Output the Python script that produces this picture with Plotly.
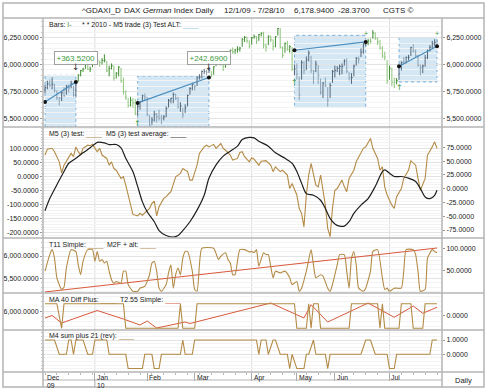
import plotly.graph_objects as go

W, H = 490, 390

# ---------------- price data (trading-day index, 1 Dec 2009 .. 28 Jul 2010) ----------------
close = [5787, 5821, 5808, 5817, 5759, 5693, 5685, 5736, 5709, 5799, 5781, 5823, 5719, 5831, 5902, 5944, 5957, 6002, 5957, 5957,
         6048, 6032, 6034, 6019, 6037, 6041, 5943, 5963, 5989, 5875, 5919, 5976, 5851, 5746, 5695, 5620, 5668, 5643, 5540, 5608,
         5653, 5709, 5699, 5534, 5434, 5484, 5536, 5516, 5503, 5500, 5513, 5592, 5665, 5686, 5722, 5686, 5605, 5615, 5532, 5598,
         5713, 5776, 5817, 5795, 5877, 5885, 5936, 5937, 5929, 5945, 5903, 5979, 6025, 6024, 6015, 5982, 6017, 6038, 6132, 6120, 6136, 6142, 6153,
         6235, 6253, 6222, 6171, 6250, 6261, 6212, 6279, 6291, 6180, 6162, 6264, 6230, 6168, 6259, 6335, 6160, 6085, 6196, 6136,
         6166, 5958, 5958, 5909, 5716, 6018, 5946, 6042, 6107, 5947, 5939, 6004, 5899, 5740, 5829, 5801, 5670, 5805, 5936, 5946, 5964,
         5981, 5984, 6032, 5938, 5874, 5880, 5985, 6057, 6049, 6116, 6191, 6216, 6220, 6216, 6293, 6241, 6212, 6153, 6080, 6070, 5849, 5966,
         5835, 5834, 5850, 5982, 6019, 6015, 6066, 6068, 6158, 6124, 6081, 5996, 5970, 5987, 6064, 6131, 6160, 6194, 6207, 6179]
high = [5810, 5850, 5860, 5880, 5820, 5760, 5700, 5750, 5790, 5810, 5815, 5850, 5800, 5840, 5910, 5950, 5970, 6010, 6010, 5980,
        6050, 6060, 6045, 6035, 6060, 6095, 6035, 5990, 6010, 5990, 5930, 5985, 5970, 5880, 5760, 5690, 5700, 5690, 5680, 5650,
        5660, 5720, 5730, 5700, 5530, 5510, 5570, 5550, 5580, 5530, 5530, 5610, 5680, 5690, 5740, 5730, 5700, 5650, 5600, 5630,
        5720, 5790, 5830, 5810, 5890, 5910, 5945, 5960, 5950, 5980, 5940, 5985, 6030, 6040, 6055, 6010, 6025, 6060, 6140, 6160, 6145, 6170, 6165,
        6245, 6265, 6260, 6225, 6255, 6280, 6265, 6285, 6300, 6305, 6195, 6270, 6270, 6235, 6265, 6340, 6340, 6170, 6205, 6220,
        6180, 6165, 6000, 6010, 5890, 6040, 6030, 6075, 6130, 6080, 5950, 6035, 5995, 5870, 5835, 5880, 5790, 5830, 5950, 5990, 5985,
        6000, 6010, 6050, 6060, 5930, 5920, 6000, 6070, 6075, 6150, 6200, 6225, 6240, 6245, 6320, 6300, 6250, 6230, 6170, 6120, 6040, 5990,
        5970, 5880, 5875, 5990, 6030, 6070, 6075, 6090, 6165, 6190, 6140, 6090, 6000, 6000, 6090, 6140, 6180, 6220, 6235, 6230]
low = [5730, 5770, 5790, 5770, 5740, 5670, 5620, 5660, 5700, 5720, 5740, 5780, 5700, 5700, 5840, 5890, 5930, 5960, 5950, 5930,
       5975, 6005, 6000, 5980, 6000, 6020, 5930, 5890, 5955, 5850, 5870, 5890, 5830, 5720, 5670, 5600, 5610, 5600, 5530, 5520,
       5580, 5650, 5670, 5520, 5430, 5440, 5470, 5460, 5480, 5445, 5480, 5510, 5600, 5640, 5640, 5670, 5590, 5560, 5500, 5550,
       5610, 5720, 5760, 5760, 5800, 5860, 5870, 5910, 5900, 5920, 5880, 5905, 5985, 5995, 5990, 5940, 5970, 5995, 6040, 6100, 6100, 6110, 6120,
       6165, 6210, 6200, 6150, 6185, 6240, 6190, 6220, 6260, 6150, 6120, 6180, 6210, 6130, 6160, 6270, 6150, 6060, 6110, 6130,
       6110, 5940, 5900, 5860, 5670, 5860, 5910, 5950, 6030, 5920, 5820, 5930, 5820, 5720, 5690, 5790, 5607, 5690, 5830, 5880, 5930,
       5900, 5910, 5990, 5920, 5850, 5820, 5890, 5990, 6010, 6070, 6100, 6170, 6180, 6195, 6240, 6230, 6180, 6140, 6060, 6040, 5820, 5860,
       5800, 5780, 5815, 5860, 5945, 6000, 6010, 6040, 6080, 6110, 6060, 5980, 5900, 5920, 5980, 6050, 6120, 6150, 6170, 6170]

# ---------------- trades ----------------
trade_entry = [0, 39, 105, 149]
trade_exit = [13, 69, 135, 165]
trade_entry_price = [5652, 5643, 6133, 5984]
trade_exit_price = [5838, 5879, 6210, 6170]
trade_box_high = [5900, 5894, 6272, 6251]
trade_box_low = [5420, 5420, 5600, 5838]
trade_profit = ["+363.5200", "+242.6900", "", ""]
trade_exit_mark = ["↓", "↓", "+", "+"]
trade_entry_mark = ["", "↑", "↑", "↑"]

# ---------------- indicators ----------------
m5_days = [0, 1, 3, 4, 6, 7, 8, 10, 11, 12,
           13, 14, 15, 16, 18, 19, 20, 22, 23, 24,
           26, 27, 28, 29, 30, 32, 33, 34, 35, 36,
           37, 39, 40, 41, 43, 44, 45, 46, 47, 48,
           50, 51, 53, 54, 55, 57, 58, 60, 61, 62,
           64, 65, 67, 68, 69, 71, 72, 74, 75, 76,
           78, 79, 81, 82, 83, 84, 86, 87, 88, 90,
           91, 93, 95, 96, 97, 99, 100, 102, 103, 104,
           106, 107, 108, 109, 110, 111, 112, 114, 115, 116,
           117, 118, 119, 120, 121, 122, 123, 125, 126, 127,
           128, 130, 131, 133, 134, 135, 137, 138, 140, 141,
           142, 143, 144, 146, 147, 148, 150, 151, 153, 154,
           156, 157, 158, 160, 161, 163, 164, 165]
m5_test = [76, 97, 100, 88, 52, 13, 40, 70, 82, 70,
           105, 88, 76, 100, 111, 109, 114, 88, 100, 76,
           64, 40, 52, 28, 22, -7, -1, -31, -66, -102,
           -135, -140, -131, -138, -120, -114, -96, -88, -140, -108,
           -78, -72, -54, -25, -1, 11, 28, 17, -13, -13,
           40, 82, 105, 111, 105, 114, 100, 117, 100, 93,
           76, 58, 64, 85, 88, 70, 52, 66, 61, 40,
           54, 56, 40, 17, 34, 17, 22, 5, -43, -25,
           -66, -114, -131, -179, -66, 5, 46, -31, -37, 5,
           -49, -102, -185, -214, -114, -49, -43, -13, -37, -54,
           -7, 22, 52, 82, 100, 105, 135, 100, 64, 22,
           34, -37, -66, -102, -114, -72, -43, -7, 22, 56,
           40, -7, -49, -7, 76, 105, 123, 100]

m5_avg_days = [0, 2, 5, 8, 10, 13, 16, 19, 21, 22,
               25, 27, 30, 32, 34, 37, 39, 41, 43, 46,
               48, 51, 54, 56, 58, 61, 64, 67, 69, 72,
               75, 78, 81, 83, 86, 88, 90, 94, 97, 101,
               104, 106, 108, 110, 113, 116, 118, 120, 122, 124,
               126, 128, 130, 133, 136, 139, 142, 143, 145, 147,
               150, 153, 156, 158, 160, 162, 164, 165]
m5_avg = [-40, -18, 7, 31, 46, 55, 65, 74, 81, 84,
          83, 80, 80, 74, 55, 31, 4, -24, -42, -60,
          -76, -85, -88, -85, -76, -60, -39, -12, 19, 43,
          59, 68, 77, 89, 93, 92, 86, 77, 65, 55,
          46, 31, 10, -9, -12, -21, -36, -54, -64, -68,
          -68, -60, -45, -30, -18, 4, 31, 34, 28, 22,
          22, 19, 13, 0, -15, -18, -12, -3]

t11_days = [0, 2, 3, 4, 5, 7, 8, 9, 11, 13,
            14, 15, 16, 18, 20, 21, 22, 23, 24, 25,
            26, 27, 28, 29, 30, 32, 33, 34, 35, 37,
            39, 40, 42, 43, 44, 45, 46, 47, 48, 49,
            51, 52, 53, 54, 55, 56, 57, 58, 59, 60,
            62, 63, 64, 65, 66, 71, 73, 74, 76, 77,
            78, 79, 80, 81, 82, 84, 86, 87, 88, 89,
            90, 92, 93, 94, 95, 96, 97, 99, 101, 103,
            104, 106, 107, 108, 110, 112, 113, 114, 116, 117,
            119, 120, 121, 123, 124, 126, 127, 128, 129, 130,
            131, 132, 134, 135, 137, 138, 140, 142, 143, 144,
            145, 147, 148, 150, 151, 152, 155, 156, 157, 158,
            160, 161, 163, 164, 165]
t11 = [49, 86, 97, 78, 34, 8, 13, 56, 97, 93,
       63, 41, 71, 97, 97, 71, 93, 71, 75, 67,
       71, 49, 30, 22, 26, 22, 49, 49, 19, 4,
       4, 11, 15, 26, 41, 67, 71, 49, 11, 4,
       19, 45, 63, 11, 41, 56, 41, 78, 93, 93,
       49, 8, 4, 63, 100, 100, 75, 82, 90, 75,
       67, 41, 41, 71, 97, 97, 92, 93, 90, 97,
       60, 90, 86, 86, 60, 34, 49, 45, 49, 34,
       19, 26, 4, 11, 49, 97, 63, 34, 41, 38,
       11, 4, 19, 63, 86, 86, 49, 11, 78, 93,
       63, 11, 4, 11, 49, 93, 97, 34, 8, 11,
       4, 11, 11, 11, 49, 97, 97, 86, 49, 4,
       8, 78, 97, 93, 90]

m2f_days = [0, 165]
m2f = [5193, 6179]

ma40_days = [0, 5, 7, 8, 33, 34, 56, 57, 58, 63, 64, 105, 106, 110, 111, 112,
             113, 115, 116, 128, 129, 140, 141, 142, 143, 149, 150, 154, 155, 159, 160, 165]
ma40 = [1, 1, -1, 1, 1, -1, -1, 1, -1, -1, 1, 1, -1, -1, 1, -1,
        1, 1, -1, -1, 1, 1, -1, 1, -1, -1, 1, 1, -1, -1, 1, 1]

t255_days = [0, 3, 7, 22, 33, 40, 43, 47, 59, 61, 95, 109, 112, 119, 136, 147, 155, 159, 165]
t255 = [5937, 5962, 5887, 6012, 5927, 5867, 5907, 5837, 5897, 5882, 6087, 5937, 6070, 5897, 6087, 5944, 6057, 5984, 6044]

m4_days = [0, 4, 6, 9, 10, 11, 12, 13, 16, 18,
           20, 21, 26, 27, 34, 35, 41, 42, 45, 46,
           48, 49, 57, 58, 59, 62, 63, 89, 90, 91,
           93, 94, 96, 97, 99, 102, 103, 104, 106, 109,
           110, 111, 113, 114, 118, 119, 120, 133, 135, 137,
           139, 144, 145, 147, 148, 162, 163, 165]
m4 = [1, 1, 0, 0, 1, 1, 0, 1, 1, 0,
      0, 1, 1, 0, 0, -1, -1, 0, 0, -1,
      -1, 0, 0, 1, 0, 0, 1, 1, 0, 1,
      1, 0, 1, 1, 0, 0, -1, 0, -1, -1,
      0, 0, 1, 0, 0, -1, 0, 0, 1, 1,
      0, 0, -1, -1, 0, 0, 1, 1]

# ---------------- axis labels ----------------
months = ["Dec", "Jan", "Feb", "Mar", "Apr", "May", "Jun", "Jul"]
month_days = [0, 21, 43, 63, 87, 106, 122, 145]
years = ["09", "10"]
year_days = [0, 21]
quarter_days = [21, 87, 145]

p1_ticks = [6250, 6000, 5750, 5500]
p2_left_ticks = [100, 50, 0, -50, -100, -150, -200]
p2_right_ticks = [75, 50, 25, 0, -25, -50, -75]
p3_left_ticks = [6000, 5500]
p3_right_ticks = [100, 50]
p4_left_ticks = [6000]
p4_right_ticks = [0]
p5_right_ticks = [1, 0]

# ---------------- styling ----------------
TAN = "#b48b46"
RED = "#d9583b"
BLK = "#1e1e1e"
GREEN_TXT = "#3c9a3c"
FRAME = "#b4b4b4"
FONT = "Liberation Sans, Arial, sans-serif"


def py(p):
    return 1 - p / H


def px(p):
    return p / W


def dom(a, b):
    return [1 - b / H, 1 - a / H]


fig = go.Figure()

# ---- price bars ----
n = len(close)
groups = {}
for i in range(n):
    inside = any(e <= i <= x for e, x in zip(trade_entry, trade_exit))
    up = i == 0 or close[i] >= close[i - 1]
    xs, ys = groups.setdefault((inside, up), ([], []))
    xs += [i, i, None, i, i + 0.5, None]
    ys += [low[i], high[i], None, close[i], close[i], None]
bar_colors = {(False, True): "#3f8e30", (False, False): "#8cc47a",
              (True, True): "#53677b", (True, False): "#8ea2b5"}
for key, (xs, ys) in groups.items():
    fig.add_trace(go.Scatter(x=xs, y=ys, mode="lines", line=dict(color=bar_colors[key], width=1),
                             xaxis="x", yaxis="y", hoverinfo="skip"))

for k in range(len(trade_entry)):
    fig.add_trace(go.Scatter(x=[trade_entry[k], trade_exit[k]],
                             y=[trade_entry_price[k], trade_exit_price[k]],
                             mode="lines+markers", line=dict(color="#4a8cbd", width=1.2),
                             marker=dict(color="#111", size=4), xaxis="x", yaxis="y", hoverinfo="skip"))

# dummy for right axis of price panel
fig.add_trace(go.Scatter(x=[0], y=[6000], mode="markers", marker=dict(opacity=0), xaxis="x", yaxis="y6", hoverinfo="skip"))

# ---- panel 2 ----
fig.add_trace(go.Scatter(x=m5_days, y=m5_test, mode="lines", line=dict(color=TAN, width=1.1),
                         xaxis="x2", yaxis="y2", hoverinfo="skip"))
fig.add_trace(go.Scatter(x=m5_avg_days, y=m5_avg, mode="lines", line=dict(color=BLK, width=1.2, shape="spline", smoothing=0.8),
                         xaxis="x2", yaxis="y7", hoverinfo="skip"))

# ---- panel 3 ----
fig.add_trace(go.Scatter(x=m2f_days, y=m2f, mode="lines", line=dict(color=RED, width=1),
                         xaxis="x3", yaxis="y3", hoverinfo="skip"))
fig.add_trace(go.Scatter(x=t11_days, y=t11, mode="lines", line=dict(color=TAN, width=1.1, shape="spline", smoothing=0.5),
                         xaxis="x3", yaxis="y8", hoverinfo="skip"))

# ---- panel 4 ----
fig.add_trace(go.Scatter(x=ma40_days, y=ma40, mode="lines", line=dict(color=TAN, width=1.1),
                         xaxis="x4", yaxis="y9", hoverinfo="skip"))
fig.add_trace(go.Scatter(x=t255_days, y=t255, mode="lines", line=dict(color=RED, width=1),
                         xaxis="x4", yaxis="y4", hoverinfo="skip"))

# ---- panel 5 ----
fig.add_trace(go.Scatter(x=m4_days, y=m4, mode="lines", line=dict(color=TAN, width=1.1),
                         xaxis="x5", yaxis="y10", hoverinfo="skip"))
fig.add_trace(go.Scatter(x=[0], y=[0], mode="markers", marker=dict(opacity=0), xaxis="x5", yaxis="y5", hoverinfo="skip"))

# ---------------- axes ----------------
XD = [43 / W, 442 / W]
XR = [-0.84, 167.1]
panels = [(18, 127), (127, 238), (238, 293), (293, 330), (330, 372)]


def fmt(v):
    return f"{v:,.4f}"


layout = {}
for i in range(1, 6):
    name = "xaxis" if i == 1 else f"xaxis{i}"
    ax = dict(domain=XD, range=XR, anchor="y" if i == 1 else f"y{i}", showticklabels=False,
              showgrid=False, zeroline=False, showline=False, ticks="", fixedrange=True)
    if i > 1:
        ax["matches"] = "x"
    if i == 5:
        ax.update(tickvals=[d for d in month_days if d > 0], ticks="outside", ticklen=8,
                  tickcolor="#aaaaaa", tickwidth=1,
                  minor=dict(ticks="outside", ticklen=2, tickcolor="#bbbbbb", tick0=0, dtick=5))
    layout[name] = ax


def yax(domain, rng, ticks, side, anchor, overlay=None, grid=False, minor_dtick=None, labels=True):
    d = dict(range=rng, tickmode="array", tickvals=ticks, ticktext=[fmt(v) for v in ticks], side=side,
             anchor=anchor, showline=False, zeroline=False, showticklabels=labels,
             tickfont=dict(size=7, color="#222", family=FONT), ticks="outside", ticklen=2,
             tickcolor="#999999", showgrid=grid, gridcolor="#e3e3e3", gridwidth=1, fixedrange=True)
    if overlay:
        d["overlaying"] = overlay
    else:
        d["domain"] = domain
    if minor_dtick:
        d["minor"] = dict(tick0=0, dtick=minor_dtick, ticks="outside", ticklen=1.5, tickcolor="#c4c4c4",
                          showgrid=True, gridcolor="#f3f3f3")
    return d


layout["yaxis"] = yax(dom(*panels[0]), [5419, 6433], p1_ticks, "left", "x", grid=True, minor_dtick=50)
layout["yaxis6"] = yax(None, [5419, 6433], p1_ticks, "right", "x", overlay="y")
layout["yaxis2"] = yax(dom(*panels[1]), [-218.8, 175.7], p2_left_ticks, "left", "x2", grid=True, minor_dtick=10)
layout["yaxis7"] = yax(None, [-89.5, 111.8], p2_right_ticks, "right", "x2", overlay="y2")
layout["yaxis3"] = yax(dom(*panels[2]), [5170, 6404], p3_left_ticks, "left", "x3", grid=True, minor_dtick=100)
layout["yaxis8"] = yax(None, [0.2, 123], p3_right_ticks, "right", "x3", overlay="y3")
layout["yaxis4"] = yax(dom(*panels[3]), [5817, 6187], p4_left_ticks, "left", "x4", grid=True, minor_dtick=50)
layout["yaxis9"] = yax(None, [-1.14, 1.87], p4_right_ticks, "right", "x4", overlay="y4")
layout["yaxis5"] = yax(dom(*panels[4]), [-1.24, 1.70], p5_right_ticks, "left", "x5", labels=False, grid=True, minor_dtick=0.25)
layout["yaxis5"]["ticks"] = ""
layout["yaxis10"] = yax(None, [-1.24, 1.70], p5_right_ticks, "right", "x5", overlay="y5")

# ---------------- shapes ----------------
shapes = []
for q in quarter_days:
    shapes.append(dict(type="line", xref="x", yref="paper", x0=q, x1=q, y0=py(372), y1=py(18),
                       line=dict(color="#dddddd", width=1), layer="below"))
for k in range(len(trade_entry)):
    shapes.append(dict(type="rect", xref="x", yref="y", x0=trade_entry[k], x1=trade_exit[k],
                       y0=trade_box_low[k], y1=trade_box_high[k],
                       fillcolor="rgba(150,200,228,0.42)",
                       line=dict(color="rgba(90,150,200,0.75)", width=1, dash="dot"), layer="below"))


def hline(y, x0=3, x1=484, w=1.5):
    return dict(type="line", xref="paper", yref="paper", x0=px(x0), x1=px(x1), y0=py(y), y1=py(y),
                line=dict(color=FRAME, width=w))


shapes.append(dict(type="rect", xref="paper", yref="paper", x0=px(3), x1=px(484), y0=py(387), y1=py(3),
                   line=dict(color=FRAME, width=1.5)))
for y in [18, 127, 238, 293, 330, 372]:
    shapes.append(hline(y))
shapes.append(hline(380, 43, 442, 1))
for x in [43, 442]:
    shapes.append(dict(type="line", xref="paper", yref="paper", x0=px(x), x1=px(x), y0=py(387), y1=py(18),
                       line=dict(color=FRAME, width=1.5)))
shapes.append(dict(type="line", xref="x", yref="paper", x0=year_days[1], x1=year_days[1], y0=py(387), y1=py(380),
                   line=dict(color="#aaaaaa", width=1)))

# ---------------- annotations ----------------
ann = []


def text(x, y, s, size=7, color="#222", xanchor="left"):
    ann.append(dict(x=px(x), y=py(y), xref="paper", yref="paper", text=s, showarrow=False,
                    xanchor=xanchor, yanchor="middle", font=dict(size=size, color=color, family=FONT)))


# title row
title_parts = [("^GDAXI_D", 80), ("DAX <i>German</i> Index Daily", 122), ("12/1/09 - 7/28/10", 222),
               ("6,178.9400", 292), ("-28.3700", 336), ("CGTS ©", 381)]
for s, x in title_parts:
    text(x, 10.5, s, size=8)

# legends
text(47, 24.5, "Bars: <span style='color:#3f8e30'>I-</span>")
text(79.5, 24.5, "* * 2010 - M5 trade (3) Test ALT: <span style='color:#8cc4e2'>____</span>")
text(47, 134, f"M5 (3) test: <span style='color:{TAN}'>____</span>")
text(104, 134, f"M5 (3) test average: <span style='color:{BLK}'>____</span>")
text(47, 244.5, f"T11 Simple: <span style='color:{TAN}'>____</span>")
text(105, 244.5, f"M2F + alt: <span style='color:{TAN}'>____</span>")
text(47, 300, f"MA 40 Diff Plus: <span style='color:{TAN}'>____</span>")
text(118, 300, f"T2.55 Simple: <span style='color:{RED}'>____</span>")
text(47, 336, f"M4 sum plus 21 (rev): <span style='color:{TAN}'>____</span>")

# date row
for m, d in zip(months, month_days):
    ann.append(dict(x=d, y=py(372.5), xref="x", yref="paper", text=m, showarrow=False, xanchor="left",
                    yanchor="top", xshift=1, borderpad=0, font=dict(size=6.8, color="#222", family=FONT)))
for yv, d in zip(years, year_days):
    ann.append(dict(x=d, y=py(380.5), xref="x", yref="paper", text=yv, showarrow=False, xanchor="left",
                    yanchor="top", xshift=1, borderpad=0, font=dict(size=6.8, color="#222", family=FONT)))
text(463, 380, "Daily", size=7.5, xanchor="center")

# trade marks
for k in range(len(trade_entry)):
    if trade_profit[k]:
        ann.append(dict(x=trade_exit[k], y=6063, xref="x", yref="y", text=trade_profit[k], showarrow=False,
                        bordercolor="#a0a0a0", borderwidth=1, borderpad=1.5, bgcolor="white",
                        font=dict(size=8, color=GREEN_TXT, family=FONT)))
    if trade_exit_mark[k] == "↓":
        ann.append(dict(x=trade_exit[k], y=5975, xref="x", yref="y", text="↓", showarrow=False,
                        font=dict(size=9, color="#333", family="DejaVu Sans")))
    elif trade_exit_mark[k]:
        ann.append(dict(x=trade_exit[k], y=high[trade_exit[k]], xref="x", yref="y", text=trade_exit_mark[k],
                        showarrow=False, yanchor="bottom", yshift=1,
                        font=dict(size=7, color=GREEN_TXT, family=FONT)))
    if trade_entry_mark[k]:
        ann.append(dict(x=trade_entry[k], y=low[trade_entry[k]], xref="x", yref="y", text=trade_entry_mark[k],
                        showarrow=False, yanchor="top", yshift=-1,
                        font=dict(size=8, color=GREEN_TXT, family="DejaVu Sans")))

fig.update_layout(width=W, height=H, margin=dict(l=0, r=0, t=0, b=0), paper_bgcolor="white",
                  plot_bgcolor="white", showlegend=False, hovermode=False, shapes=shapes, annotations=ann,
                  font=dict(family=FONT, size=7, color="#222"), **layout)

fig.write_html("out.html", config={"displayModeBar": False},
               post_script="document.body.style.margin='0';document.body.style.padding='0';document.body.style.overflow='hidden';")
